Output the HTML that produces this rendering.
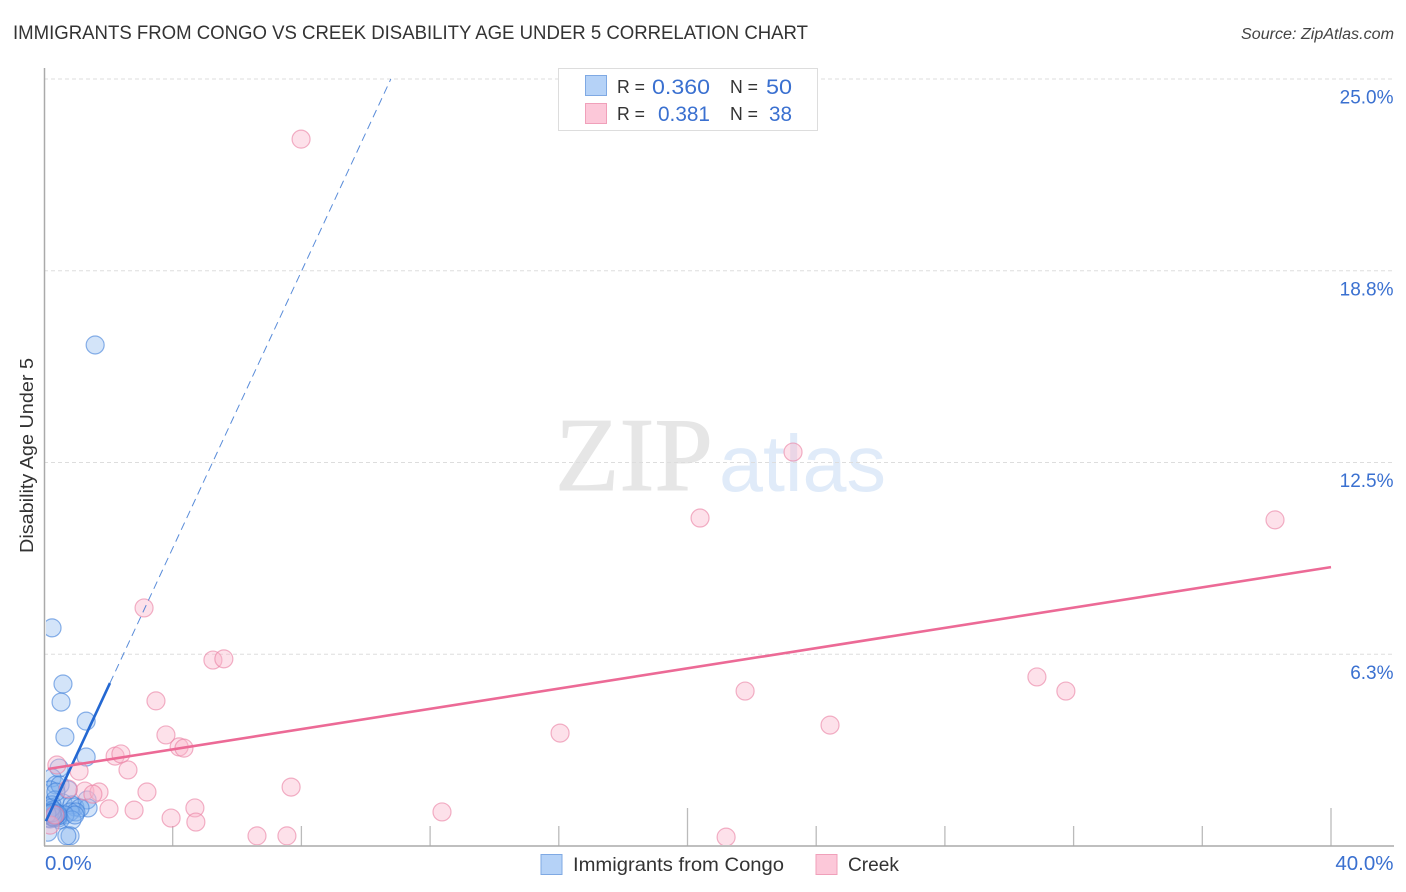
<!DOCTYPE html>
<html lang="en">
<head>
<meta charset="utf-8">
<title>Immigrants from Congo vs Creek Disability Age Under 5 Correlation Chart</title>
<style>
html,body{margin:0;padding:0;background:#fff;}
body{width:1406px;height:892px;overflow:hidden;font-family:"Liberation Sans",sans-serif;}
svg{display:block;}
text{font-family:"Liberation Sans",sans-serif;}
</style>
</head>
<body>
<svg id="chart" xmlns="http://www.w3.org/2000/svg" width="1406" height="892" viewBox="0 0 1406 892">
  <defs>
    <clipPath id="plot-clip"><rect x="46" y="60" width="1348" height="785"/></clipPath>
  </defs>
  <rect x="0" y="0" width="1406" height="892" fill="#fff"/>
  <text x="13" y="39" font-size="19.5" fill="#333" textLength="795" lengthAdjust="spacingAndGlyphs">IMMIGRANTS FROM CONGO VS CREEK DISABILITY AGE UNDER 5 CORRELATION CHART</text>
  <text x="1241" y="39" font-size="15.5" font-style="italic" fill="#444" textLength="153" lengthAdjust="spacingAndGlyphs">Source: ZipAtlas.com</text>

  <g>
    <text x="555" y="490" font-size="105" fill="#e6e6e6" stroke="#e6e6e6" stroke-width="0.9" style="font-family:'Liberation Serif',serif" textLength="158" lengthAdjust="spacingAndGlyphs">ZIP</text>
    <text x="719" y="491" font-size="80" fill="#e0ebf9" textLength="167" lengthAdjust="spacingAndGlyphs">atlas</text>
  </g>

  <g id="grid"></g>
  <g id="x-ticks"></g>
  <line x1="44.5" y1="68" x2="44.5" y2="846" stroke="#aaa" stroke-width="1.5"/>
  <line x1="44" y1="846" x2="1394" y2="846" stroke="#aaa" stroke-width="1.5"/>
  <g id="points" clip-path="url(#plot-clip)"></g>
  <g id="trends"></g>
  <g id="y-labels"></g>
  <g id="x-labels"></g>

  <text transform="translate(33,553) rotate(-90)" font-size="18" fill="#333" textLength="195" lengthAdjust="spacingAndGlyphs">Disability Age Under 5</text>

  <g>
    <rect x="558.5" y="68.5" width="259" height="62" fill="#fff" stroke="#ddd" stroke-width="1"/>
    <rect x="585.5" y="75.5" width="21" height="20" fill="#b5d2f7" stroke="#7fa9e3"/>
    <rect x="585.5" y="103.5" width="21" height="20" fill="#fcc8d9" stroke="#f0a0ba"/>
    <text x="617" y="93" font-size="18" fill="#333" textLength="28" lengthAdjust="spacingAndGlyphs">R =</text>
    <text x="652" y="94" font-size="21" fill="#3a70d0" textLength="58" lengthAdjust="spacingAndGlyphs">0.360</text>
    <text x="730" y="93" font-size="18" fill="#333" textLength="28" lengthAdjust="spacingAndGlyphs">N =</text>
    <text x="766" y="94" font-size="21" fill="#3a70d0" textLength="26" lengthAdjust="spacingAndGlyphs">50</text>
    <text x="617" y="120" font-size="18" fill="#333" textLength="28" lengthAdjust="spacingAndGlyphs">R =</text>
    <text x="658" y="121" font-size="21" fill="#3a70d0" textLength="52" lengthAdjust="spacingAndGlyphs">0.381</text>
    <text x="730" y="120" font-size="18" fill="#333" textLength="28" lengthAdjust="spacingAndGlyphs">N =</text>
    <text x="769" y="121" font-size="21" fill="#3a70d0" textLength="23" lengthAdjust="spacingAndGlyphs">38</text>
  </g>

  <g>
    <rect x="541" y="854.5" width="21" height="20" fill="#b5d2f7" stroke="#7fa9e3"/>
    <text x="573" y="871" font-size="19.5" fill="#333" textLength="211" lengthAdjust="spacingAndGlyphs">Immigrants from Congo</text>
    <rect x="816" y="854.5" width="21" height="20" fill="#fcc8d9" stroke="#f0a0ba"/>
    <text x="848" y="871" font-size="19.5" fill="#333" textLength="51" lengthAdjust="spacingAndGlyphs">Creek</text>
  </g>
</svg>
<script>
const congoX = [1.59,0.25,0.59,0.53,1.31,0.65,1.31,0.47,0.25,0.37,0.19,0.50,0.75,0.34,0.59,0.87,0.96,1.34,1.37,1.12,0.81,0.99,0.65,0.34,0.19,0.12,0.25,0.44,0.50,0.87,0.96,0.19,0.31,0.12,0.44,0.81,0.71,0.28,0.37,0.42,0.16,0.25,0.34,0.09,0.19,0.28,0.22,0.37,0.09,0.25];
const congoY = [16.33,7.11,5.28,4.69,4.07,3.55,2.90,2.54,2.22,1.99,1.83,1.99,1.83,1.50,1.40,1.34,1.27,1.50,1.24,1.24,1.11,1.11,1.01,1.11,1.01,1.17,1.34,0.91,0.85,0.85,1.01,0.88,0.92,0.45,0.98,0.33,0.33,1.17,1.01,1.05,0.91,0.95,0.98,1.01,1.11,0.95,1.24,1.76,1.05,1.08];
const creekX = [7.99,23.28,20.39,38.26,3.11,5.25,5.59,3.48,21.79,30.86,31.76,24.43,16.04,3.79,4.20,4.35,2.21,2.39,2.61,1.09,7.68,3.20,0.40,1.27,1.71,1.52,0.75,2.02,2.80,4.69,3.95,4.72,12.37,6.62,7.55,21.20,0.19,0.34];
const creekY = [23.04,12.84,10.69,10.63,7.76,6.06,6.10,4.73,5.05,5.51,5.05,3.94,3.68,3.62,3.23,3.19,2.93,3.00,2.48,2.44,1.92,1.76,2.64,1.79,1.76,1.69,1.86,1.21,1.17,1.24,0.91,0.78,1.11,0.33,0.33,0.29,0.68,1.01];
const congoSolidX = [0.06,2.05];
const congoSolidY = [0.81,5.31];
const congoDashX = [2.05,10.78];
const congoDashY = [5.31,25];
const creekTrendX = [0.12,40];
const creekTrendY = [2.51,9.09];
const yTickValues = [25,18.75,12.5,6.25];
const yTickLabels = ["25.0%","18.8%","12.5%","6.3%"];
const xTickValues = [4,8,12,16,20,24,28,32,36,40];
const xEndValues = [0,40];
const xEndLabels = ["0.0%","40.0%"];

const NS = "http://www.w3.org/2000/svg";
function sx(v){ return 44 + v * 32.175; }
function sy(v){ return 846 - v * 30.68; }
function make(tag, attrs, parent){
  const el = document.createElementNS(NS, tag);
  for (const k in attrs) el.setAttribute(k, attrs[k]);
  parent.appendChild(el);
  return el;
}

const grid = document.getElementById('grid');
yTickValues.forEach(function(v){
  const el = make('line', {x1:44, x2:1394, y1:sy(v), y2:sy(v), stroke:'#ddd', 'stroke-width':1, 'stroke-dasharray':'4 3'}, grid);
  
  
});

const xt = document.getElementById('x-ticks');
xTickValues.forEach(function(v){
  const top = v % 20 === 0 ? 808 : 826;
  const el = make('line', {x1:sx(v), x2:sx(v), y1:top, y2:846, stroke:'#bbb', 'stroke-width':1.3}, xt);
  
  
});

const pts = document.getElementById('points');
congoX.forEach(function(x, i){
  const c = make('circle', {cx:sx(x), cy:sy(congoY[i]), r:9, fill:'#7fb0ee', 'fill-opacity':0.34, stroke:'#3f7fd8', 'stroke-opacity':0.6, 'stroke-width':1.2}, pts);
  
  
});
creekX.forEach(function(x, i){
  const c = make('circle', {cx:sx(x), cy:sy(creekY[i]), r:9, fill:'#f9b4ca', 'fill-opacity':0.4, stroke:'#ea7ea2', 'stroke-opacity':0.6, 'stroke-width':1.2}, pts);
  
  
});

const trends = document.getElementById('trends');
const dash = make('line', {x1:sx(congoDashX[0]), y1:sy(congoDashY[0]), x2:sx(congoDashX[1]), y2:sy(congoDashY[1]), stroke:'#2f6fd0', 'stroke-width':1, 'stroke-dasharray':'8 5', 'stroke-opacity':0.8}, trends);


const solid = make('line', {x1:sx(congoSolidX[0]), y1:sy(congoSolidY[0]), x2:sx(congoSolidX[1]), y2:sy(congoSolidY[1]), stroke:'#2468d2', 'stroke-width':2.6}, trends);


const creekLine = make('line', {x1:sx(creekTrendX[0]), y1:sy(creekTrendY[0]), x2:sx(creekTrendX[1]), y2:sy(creekTrendY[1]), stroke:'#ec6a96', 'stroke-width':2.6}, trends);



const yl = document.getElementById('y-labels');
yTickValues.forEach(function(v, i){
  const t = make('text', {x:1393.5, y:sy(v) + 24.5, 'text-anchor':'end', 'font-size':19, fill:'#3a70d0'}, yl);
  t.textContent = yTickLabels[i];
  
  
});

const xl = document.getElementById('x-labels');
xEndValues.forEach(function(v, i){
  const anchor = i === 0 ? 'start' : 'end';
  const px = i === 0 ? sx(v) + 1 : 1393.5;
  const t = make('text', {x:px, y:870, 'text-anchor':anchor, 'font-size':20.5, fill:'#3a70d0'}, xl);
  t.textContent = xEndLabels[i];
  
  
});
</script>
</body>
</html>
